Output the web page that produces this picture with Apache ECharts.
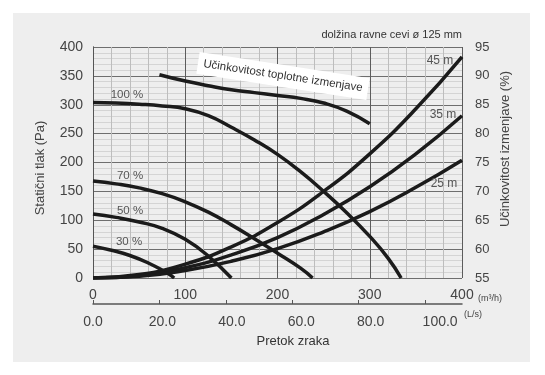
<!DOCTYPE html>
<html>
<head>
<meta charset="utf-8">
<script src="https://cdn.jsdelivr.net/npm/echarts@6/dist/echarts.min.js"></script>
<style>html,body{margin:0;padding:0;background:#fff}#c{width:545px;height:375px}</style>
</head>
<body>
<div id="c"></div>
<script>
// ---- data ----
const flowTicks = [0, 100, 200, 300, 400];          // m3/h
const lsTicks = [0, 20, 40, 60, 80, 100];            // L/s
const paTicks = [0, 50, 100, 150, 200, 250, 300, 350, 400];
const effTicks = [55, 60, 65, 70, 75, 80, 85, 90, 95];

const q100 = [0, 25, 50, 75, 100, 125, 150, 175, 200, 225, 250, 275, 300, 320, 334];
const p100 = [304, 303, 301, 298, 293, 281, 261, 239, 214, 184, 150, 113, 72, 34, 0];
const q70 = [0, 25, 50, 75, 100, 125, 150, 175, 200, 225, 238];
const p70 = [168, 163, 156, 146, 132, 114, 92, 68, 43, 17, 0];
const q50 = [0, 25, 50, 75, 100, 125, 150];
const p50 = [111, 105, 97, 86, 67, 38, 0];
const q30 = [0, 20, 40, 60, 80, 88];
const p30 = [55, 48, 39, 26, 9, 0];

const qSys = [0, 50, 100, 150, 200, 250, 300, 350, 400];
const s45 = [0, 6, 24, 54, 96, 150, 215, 293, 383];
const s35 = [0, 4, 18, 40, 70, 110, 158, 215, 281];
const s25 = [0, 3, 13, 29, 51, 80, 115, 157, 204];

const qEff = [72, 100, 125, 150, 175, 200, 225, 250, 275, 300];
const eff = [90.2, 89.1, 88.3, 87.6, 87.1, 86.6, 86.1, 85.3, 83.9, 81.7];

const fanNames = ['100 %', '70 %', '50 %', '30 %'];
const sysNames = ['45 m', '35 m', '25 m'];

function zip(a, b) { return a.map((v, i) => [v, b[i]]); }

const FONT = 'Liberation Sans, Arial, sans-serif';
const lineStyle = { color: '#1b1b1b', width: 3.5 };
function curve(name, data, yIdx) {
  return {
    name, type: 'line', data, xAxisIndex: 0, yAxisIndex: yIdx || 0,
    smooth: 0.5, showSymbol: false, symbol: 'none',
    lineStyle, silent: true, z: 5, clip: true
  };
}

const chart = echarts.init(document.getElementById('c'), null, { renderer: 'canvas' });
function txt(text, x, y, size, opts) {
  return {
    type: 'text', x, y, z: 50,
    style: Object.assign({ text, fill: '#555', font: size + 'px ' + FONT, align: 'center', verticalAlign: 'middle' }, opts || {})
  };
}

chart.setOption({
  backgroundColor: '#ffffff',
  animation: false,
  grid: { left: 93, right: 83, top: 47, bottom: 97, containLabel: false },
  xAxis: [
    {
      type: 'value', min: 0, max: 400, interval: 100, position: 'bottom',
      axisLine: { show: false }, axisTick: { show: false },
      axisLabel: { color: '#444', fontSize: 14, fontFamily: FONT, margin: 10,
        customValues: flowTicks },
      splitLine: { show: true, lineStyle: { color: '#5c5c5c', width: 1 } },
      minorTick: { show: false, splitNumber: 5 },
      minorSplitLine: { show: true, lineStyle: { color: '#bdbdbd', width: 1 } }
    },
    {
      type: 'value', min: 0, max: 400 / 3.6, position: 'bottom', offset: 26,
      axisLine: { show: true, onZero: false, lineStyle: { color: '#555', width: 1.5 } },
      axisTick: { show: true, inside: true, length: 4, lineStyle: { color: '#555' }, customValues: lsTicks },
      axisLabel: { show: false },
      splitLine: { show: false }
    },
    {
      type: 'value', min: 0, max: 106.3, position: 'bottom', offset: 26,
      axisLine: { show: false }, axisTick: { show: false },
      axisLabel: { color: '#444', fontSize: 14, fontFamily: FONT, margin: 11,
        customValues: lsTicks, formatter: v => v.toFixed(1) },
      splitLine: { show: false }
    }
  ],
  yAxis: [
    {
      type: 'value', min: 0, max: 400, interval: 50,
      axisLine: { show: true, lineStyle: { color: '#555' } }, axisTick: { show: false },
      axisLabel: { color: '#444', fontSize: 14, fontFamily: FONT, margin: 10, customValues: paTicks },
      splitLine: { show: true, lineStyle: { color: '#6e6e6e', width: 1 } },
      minorTick: { show: false, splitNumber: 5 },
      minorSplitLine: { show: true, lineStyle: { color: '#d4d4d4', width: 1 } }
    },
    {
      type: 'value', min: 55, max: 95, interval: 5, position: 'right',
      axisLine: { show: true, lineStyle: { color: '#555' } }, axisTick: { show: false },
      axisLabel: { color: '#444', fontSize: 13, fontFamily: FONT, margin: 13, customValues: effTicks },
      splitLine: { show: false }
    }
  ],
  series: [
    curve(fanNames[0], zip(q100, p100)),
    curve(fanNames[1], zip(q70, p70)),
    curve(fanNames[2], zip(q50, p50)),
    curve(fanNames[3], zip(q30, p30)),
    curve(sysNames[0], zip(qSys, s45)),
    curve(sysNames[1], zip(qSys, s35)),
    curve(sysNames[2], zip(qSys, s25)),
    curve('Učinkovitost toplotne izmenjave', zip(qEff, eff), 1)
  ],
  graphic: [
    { type: 'rect', z: -10, shape: { x: 13, y: 13, width: 517, height: 349 }, style: { fill: '#eeeeee' } },
    txt(fanNames[0], 127, 95, 11.5),
    txt(fanNames[1], 130, 176, 11.5),
    txt(fanNames[2], 130, 211, 11.5),
    txt(fanNames[3], 129, 242, 11.5),
    txt(sysNames[0], 440, 61, 12),
    txt(sysNames[1], 443, 115, 12),
    txt(sysNames[2], 444, 184, 12),
    txt('dolžina ravne cevi ø 125 mm', 462, 35, 11, { align: 'right', fill: '#333' }),
    {
      type: 'group', x: 283, y: 76, rotation: -0.152, z: 40,
      children: [
        { type: 'rect', z: 40, shape: { x: -86, y: -11, width: 172, height: 22 }, style: { fill: '#ffffff' } },
        { type: 'text', z: 41, x: 0, y: 0, style: { text: 'Učinkovitost toplotne izmenjave', fill: '#333', font: '11.5px ' + FONT, align: 'center', verticalAlign: 'middle' } }
      ]
    },
    Object.assign(txt('Statični tlak (Pa)', 40, 168, 13, { fill: '#444' }), { rotation: Math.PI / 2 }),
    Object.assign(txt('Učinkovitost izmenjave (%)', 505, 149, 13, { fill: '#444' }), { rotation: Math.PI / 2 }),
    txt('Pretok zraka', 293, 341, 13, { fill: '#333' }),
    txt('(m³/h)', 478, 299, 9, { align: 'left', fill: '#444' }),
    txt('(L/s)', 464, 315, 9, { align: 'left', fill: '#444' })
  ]
});
</script>
</body>
</html>
